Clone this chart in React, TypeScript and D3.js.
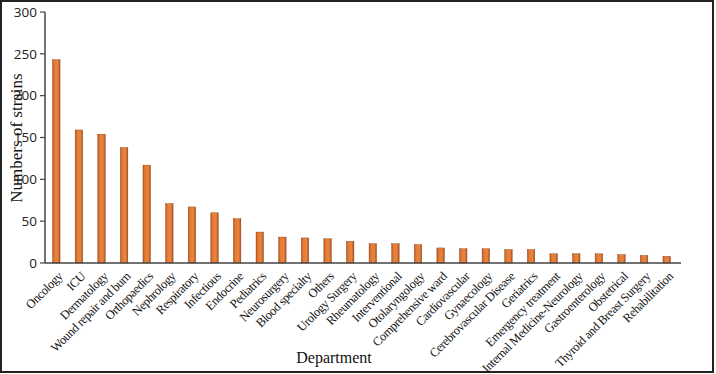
import { useEffect, useRef } from 'react';
import * as d3 from 'd3';

// departments (x categories) and strain counts
const departments = [
  'Oncology', 'ICU', 'Dermatology', 'Wound repair and burn', 'Orthopaedics', 'Nephrology',
  'Respiratory', 'Infectious', 'Endocrine', 'Pediatrics', 'Neurosurgery', 'Blood specialty',
  'Others', 'Urology Surgery', 'Rheumatology', 'Interventional', 'Otolaryngology',
  'Comprehensive ward', 'Cardiovascular', 'Gynaecology', 'Cerebrovascular Disease', 'Geriatrics',
  'Emergency treatment', 'Internal Medicine-Neurology', 'Gastroenterology', 'Obstetrical',
  'Thyroid and Breast Surgery', 'Rehabilitation',
];
const strains = [
  243, 159, 154, 138, 117, 71, 67, 60, 53, 37, 31, 30,
  29, 26, 23, 23, 22, 18, 17, 17, 16, 16,
  11, 11, 11, 10, 9, 8,
];
const yTicks = [0, 50, 100, 150, 200, 250, 300];

export default function App() {
  const svgRef = useRef<SVGSVGElement>(null);

  useEffect(() => {
    const W = 716, H = 374;
    const svg = d3.select(svgRef.current);
    svg.selectAll('*').remove();
    svg.attr('width', W).attr('height', H);

    const m = { left: 45, right: 38, top: 12, bottom: 111 };

    // frame around the picture
    svg.append('rect')
      .attr('x', 1).attr('y', 1).attr('width', W - 4).attr('height', H - 3)
      .attr('fill', 'white').attr('stroke', '#222').attr('stroke-width', 2);

    const defs = svg.append('defs');
    const grad = defs.append('linearGradient').attr('id', 'barGrad')
      .attr('x1', '0%').attr('x2', '100%').attr('y1', '0%').attr('y2', '0%');
    grad.append('stop').attr('offset', '0%').attr('stop-color', '#b4561f');
    grad.append('stop').attr('offset', '25%').attr('stop-color', '#e47b35');
    grad.append('stop').attr('offset', '70%').attr('stop-color', '#e8843f');
    grad.append('stop').attr('offset', '100%').attr('stop-color', '#a94f1c');

    const x = d3.scaleBand().domain(departments).range([m.left, W - m.right]).padding(0);
    const y = d3.scaleLinear().domain([0, 300]).range([H - m.bottom, m.top]);
    const bw = 7.5;

    svg.append('g').selectAll('rect')
      .data(departments)
      .join('rect')
      .attr('x', (d) => x(d)! + x.bandwidth() / 2 - bw / 2)
      .attr('y', (_, i) => y(strains[i]))
      .attr('width', bw)
      .attr('height', (_, i) => y(0) - y(strains[i]))
      .attr('fill', 'url(#barGrad)')
      .attr('stroke', '#8a3f14')
      .attr('stroke-width', 0.4);

    // y axis
    const yAxis = svg.append('g');
    yAxis.append('line')
      .attr('x1', m.left).attr('x2', m.left).attr('y1', y(300)).attr('y2', y(0))
      .attr('stroke', '#444').attr('stroke-width', 1.5);
    yTicks.forEach((t) => {
      yAxis.append('line')
        .attr('x1', m.left - 5).attr('x2', m.left).attr('y1', y(t)).attr('y2', y(t))
        .attr('stroke', '#444').attr('stroke-width', 1.2);
      yAxis.append('text')
        .attr('x', m.left - 8).attr('y', y(t)).attr('dy', '0.35em')
        .attr('text-anchor', 'end')
        .style('font-family', '"Open Sans", "DejaVu Sans", sans-serif')
        .style('font-size', '13.5px')
        .style('fill', '#222')
        .text(t);
    });

    // x axis
    svg.append('line')
      .attr('x1', m.left).attr('x2', W - m.right + 3).attr('y1', y(0)).attr('y2', y(0))
      .attr('stroke', '#444').attr('stroke-width', 1.5);

    svg.append('g').selectAll('text')
      .data(departments)
      .join('text')
      .attr('transform', (d) => `translate(${x(d)! + x.bandwidth() / 2 + 4},${y(0) + 11}) rotate(-45)`)
      .attr('text-anchor', 'end')
      .attr('dy', '0.35em')
      .style('font-family', '"Liberation Serif", "Times New Roman", serif')
      .style('font-size', '12.5px')
      .style('letter-spacing', '-0.4px')
      .style('fill', '#111')
      .text((d) => d);

    // axis titles
    svg.append('text')
      .attr('transform', `translate(22,138) rotate(-90)`)
      .attr('text-anchor', 'middle')
      .style('font-family', '"Liberation Serif", "Times New Roman", serif')
      .style('font-size', '17px')
      .style('fill', '#111')
      .text('Numbers of strains');

    svg.append('text')
      .attr('x', 334).attr('y', 363)
      .attr('text-anchor', 'middle')
      .style('font-family', '"Liberation Serif", "Times New Roman", serif')
      .style('font-size', '16px')
      .style('fill', '#111')
      .text('Department');
  }, []);

  return (
    <div style={{ position: 'absolute', left: 0, top: 0 }}>
      <svg ref={svgRef} style={{ display: 'block' }} />
    </div>
  );
}
